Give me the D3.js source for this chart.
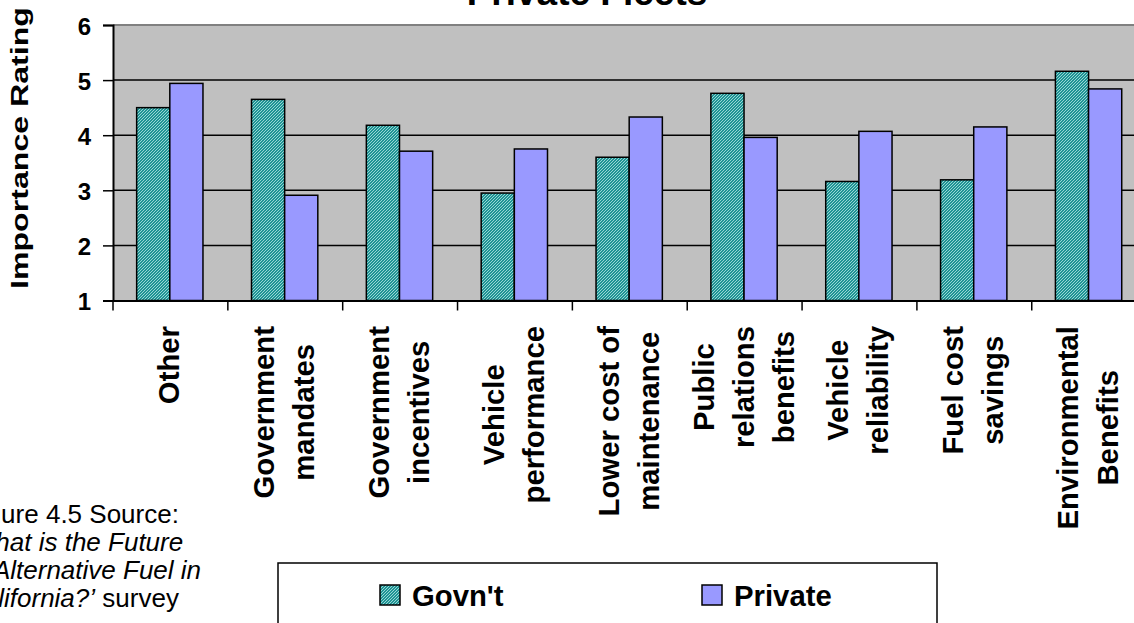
<!DOCTYPE html>
<html>
<head>
<meta charset="utf-8">
<script src="https://cdn.jsdelivr.net/npm/d3@7"></script>
<style>
  html, body { margin: 0; padding: 0; background: #ffffff; overflow: hidden; }
  svg { display: block; font-family: "Liberation Sans", Arial, sans-serif; }
</style>
</head>
<body>
<svg id="chart" width="1134" height="623"></svg>
<script>
// ---- data ----
const categories = [
  ["Other"],
  ["Government", "mandates"],
  ["Government", "incentives"],
  ["Vehicle", "performance"],
  ["Lower cost of", "maintenance"],
  ["Public", "relations", "benefits"],
  ["Vehicle", "reliability"],
  ["Fuel cost", "savings"],
  ["Environmental", "Benefits"]
];
const seriesNames = ["Govn't", "Private"];
const govtValues    = [4.50, 4.65, 4.18, 2.95, 3.60, 4.76, 3.16, 3.19, 5.16];
const privateValues = [4.94, 2.91, 3.71, 3.75, 4.33, 3.96, 4.07, 4.15, 4.84];
const yTicks = [1, 2, 3, 4, 5, 6];
const titleText = "Private Fleets";
const yTitle = "Importance Rating";

// ---- layout ----
const svg = d3.select("#chart");
const pLeft = 113, pRight = 1146.6, pTop = 25, pBottom = 300.5;

const x = d3.scaleBand().domain(d3.range(categories.length)).range([pLeft, pRight]).padding(0);
const y = d3.scaleLinear().domain([1, 6]).range([pBottom, pTop]);
const bw = x.bandwidth();
const barW = bw * 0.2887, barOff = bw * 0.206;

// pattern for Govn't
const defs = svg.append("defs");
const pat = defs.append("pattern").attr("id", "hatch").attr("patternUnits", "userSpaceOnUse")
  .attr("width", 3).attr("height", 3);
pat.append("rect").attr("width", 3).attr("height", 3).attr("fill", "#1f9494");
pat.append("path").attr("d", "M-1,1 l2,-2 M0,3 l3,-3 M2,4 l2,-2")
  .attr("stroke", "#a6dede").attr("stroke-width", 0.9);

// plot background
svg.append("rect").attr("x", pLeft).attr("y", pTop).attr("width", pRight - pLeft).attr("height", pBottom - pTop)
  .attr("fill", "#c0c0c0");
svg.append("line").attr("x1", pLeft).attr("x2", pRight).attr("y1", pTop).attr("y2", pTop)
  .attr("stroke", "#808080").attr("stroke-width", 2);

// gridlines
svg.append("g").selectAll("line").data(yTicks.filter(d => d > 1 && d < 6)).join("line")
  .attr("x1", pLeft).attr("x2", pRight).attr("y1", d => y(d)).attr("y2", d => y(d))
  .attr("stroke", "#000").attr("stroke-width", 1.5);

// bars
const data = categories.map((c, i) => ({i, g: govtValues[i], p: privateValues[i]}));
const bars = svg.append("g");
bars.selectAll("rect.g").data(data).join("rect").attr("class", "g")
  .attr("x", d => x(d.i) + barOff).attr("width", barW)
  .attr("y", d => y(d.g)).attr("height", d => y(1) - y(d.g))
  .attr("fill", "url(#hatch)").attr("stroke", "#000").attr("stroke-width", 1.5);
bars.selectAll("rect.p").data(data).join("rect").attr("class", "p")
  .attr("x", d => x(d.i) + barOff + barW).attr("width", barW)
  .attr("y", d => y(d.p)).attr("height", d => y(1) - y(d.p))
  .attr("fill", "#9999ff").attr("stroke", "#000").attr("stroke-width", 1.5);

// y axis
const yAxis = d3.axisLeft(y).tickValues(yTicks).tickSize(10).tickPadding(12).tickFormat(d3.format("d"));
const yg = svg.append("g").attr("transform", `translate(${pLeft},0)`).call(yAxis);
yg.select(".domain").attr("stroke", "#000").attr("stroke-width", 2);
yg.selectAll(".tick line").attr("stroke", "#000").attr("stroke-width", 1.5);
yg.selectAll(".tick text").attr("font-size", 24).attr("font-weight", "bold")
  .attr("fill", "#000").attr("font-family", "Liberation Sans, Arial, sans-serif")
  .attr("dy", "0.38em");

// x axis
const xAxis = d3.axisBottom(x).tickSize(0).tickFormat("");
const xg = svg.append("g").attr("transform", `translate(0,${pBottom})`).call(xAxis);
xg.select(".domain").attr("stroke", "#000").attr("stroke-width", 2);
xg.selectAll(".tick").remove();
// boundary ticks
xg.selectAll("line.bt").data(d3.range(categories.length + 1)).join("line").attr("class", "bt")
  .attr("x1", i => pLeft + i * bw).attr("x2", i => pLeft + i * bw)
  .attr("y1", 0).attr("y2", 10).attr("stroke", "#000").attr("stroke-width", 1.5);

// x labels
const labelTop = 326, lineGap = 40, fs = 29.3;
categories.forEach((lines, i) => {
  const cx = x(i) + bw / 2;
  const g = svg.append("g");
  const texts = lines.map((t, j) => g.append("text").text(t)
    .attr("font-size", fs).attr("font-weight", "bold").attr("fill", "#000")
    .attr("text-anchor", "middle"));
  const maxLen = d3.max(texts, t => t.node().getComputedTextLength());
  const n = lines.length;
  g.attr("transform", `translate(${cx},${labelTop + maxLen / 2}) rotate(-90)`);
  texts.forEach((t, j) => t.attr("x", 0).attr("y", (j - (n - 1) / 2) * lineGap + 9));
});

// y title
svg.append("text").text(yTitle)
  .attr("transform", `translate(33,148) rotate(-90)`)
  .attr("text-anchor", "middle").attr("font-size", 24).attr("font-weight", "bold")
  .attr("textLength", 282).attr("lengthAdjust", "spacingAndGlyphs")
  .attr("y", -5);

// title
svg.append("text").text(titleText).attr("x", 587).attr("y", 5)
  .attr("text-anchor", "middle").attr("font-size", 37).attr("font-weight", "bold");

// footnote
const foot = svg.append("text").attr("font-size", 26).attr("fill", "#000");
const fx = -35;
foot.append("tspan").attr("x", fx).attr("y", 523).text("Figure 4.5 Source:");
foot.append("tspan").attr("x", fx).attr("y", 551).attr("font-style", "italic").text("\u2018What is the Future");
foot.append("tspan").attr("x", fx).attr("y", 579).attr("font-style", "italic").text("of Alternative Fuel in");
foot.append("tspan").attr("x", fx).attr("y", 607).attr("font-style", "italic").text("California?\u2019");
foot.append("tspan").text(" survey");

// legend
const lg = svg.append("g");
lg.append("rect").attr("x", 278).attr("y", 563).attr("width", 659).attr("height", 100)
  .attr("fill", "#fff").attr("stroke", "#000").attr("stroke-width", 1.5);
const legendItems = [
  {name: seriesNames[0], fill: "url(#hatch)", x: 380},
  {name: seriesNames[1], fill: "#9999ff", x: 702}
];
legendItems.forEach(it => {
  lg.append("rect").attr("x", it.x).attr("y", 585).attr("width", 20).attr("height", 20)
    .attr("fill", it.fill).attr("stroke", "#000").attr("stroke-width", 1.5);
  lg.append("text").attr("x", it.x + 32).attr("y", 606).text(it.name)
    .attr("font-size", 29.3).attr("font-weight", "bold");
});
</script>
</body>
</html>
